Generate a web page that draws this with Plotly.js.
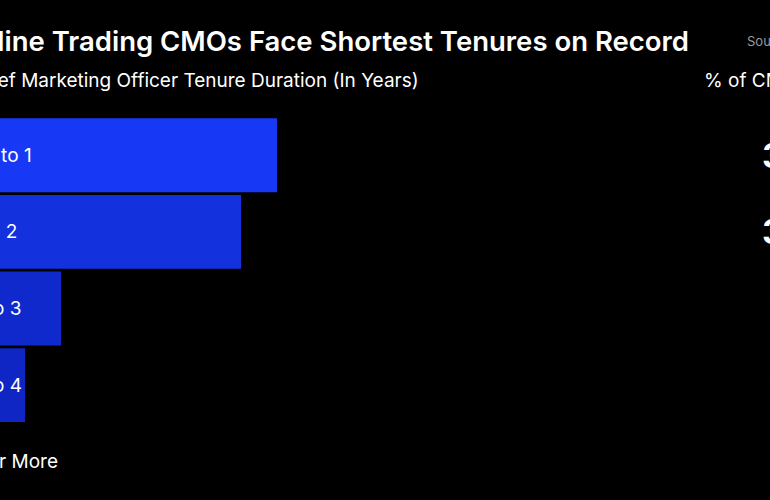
<!DOCTYPE html>
<html>
<head>
<meta charset="utf-8">
<script src="https://cdn.plot.ly/plotly-3.0.1.min.js"></script>
<style>
  html, body { margin: 0; padding: 0; background: #000; overflow: hidden; }
  #chart { width: 770px; height: 500px; }
</style>
</head>
<body>
<div id="chart"></div>
<script>
// Data
const categories = ["Up to 1", "1 to 2", "2 to 3", "3 to 4", "4 or More"];
const shareOfCMOs = [38, 34, 14, 10, 4];
const valueLabels = ["38%", "34%", "14%", "10%", "4%"];
const barColors = ["#1739F6", "#1331DD", "#1029CC", "#0F26C4", "#0E23B8"];

const titleText = "Online Trading CMOs Face Shortest Tenures on Record";
const subtitleText = "Chief Marketing Officer Tenure Duration (In Years)";
const rightHeader = "% of CMOs";
const sourceText = "Source: Industry survey";

const W = 770, H = 500;
const M = { l: 0, r: 0, t: 117, b: 0 };
const plotH = H - M.t - M.b;
const px2paperX = px => (px - M.l) / (W - M.l - M.r);
const px2paperY = py => (H - M.b - py) / plotH;

const trace = {
  type: "bar",
  orientation: "h",
  y: categories,
  x: shareOfCMOs,
  marker: { color: barColors, line: { width: 0 } },
  hoverinfo: "skip",
  showlegend: false
};

const annotations = [];
categories.forEach((c, i) => {
  annotations.push({
    xref: "paper", yref: "y", x: px2paperX(-32), y: c,
    xanchor: "left", yanchor: "middle", showarrow: false,
    text: c, font: { family: "Inter, sans-serif", size: 19, color: "#ffffff" }
  });
  annotations.push({
    xref: "paper", yref: "y", x: px2paperX(843), y: c,
    xanchor: "right", yanchor: "middle", showarrow: false,
    text: valueLabels[i], font: { family: "Inter, sans-serif", size: 34, color: "#ffffff", weight: 700 }
  });
});
annotations.push({
  xref: "paper", yref: "paper", x: px2paperX(421), y: px2paperY(80),
  xanchor: "right", yanchor: "middle", showarrow: false,
  text: subtitleText, font: { family: "Inter, sans-serif", size: 19, color: "#ffffff" }
});
annotations.push({
  xref: "paper", yref: "paper", x: px2paperX(702), y: px2paperY(80),
  xanchor: "left", yanchor: "middle", showarrow: false,
  text: rightHeader, font: { family: "Inter, sans-serif", size: 19, color: "#ffffff" }
});
annotations.push({
  xref: "paper", yref: "paper", x: px2paperX(745), y: px2paperY(41),
  xanchor: "left", yanchor: "middle", showarrow: false,
  text: sourceText, font: { family: "Inter, sans-serif", size: 13, color: "#9a9a9a" }
});

const layout = {
  width: W, height: H,
  margin: M,
  paper_bgcolor: "#000000",
  plot_bgcolor: "#000000",
  bargap: 0.035,
  title: {
    text: titleText,
    xref: "container", yref: "container",
    x: 689 / W, xanchor: "right",
    y: 1 - 41 / H, yanchor: "middle",
    font: { family: "Inter, sans-serif", size: 27.5, color: "#ffffff", weight: 600 }
  },
  xaxis: { range: [65 / 9, 65 / 9 + 770 / 9], visible: false, fixedrange: true },
  yaxis: { autorange: "reversed", visible: false, fixedrange: true },
  annotations: annotations,
  showlegend: false
};

Plotly.newPlot("chart", [trace], layout, { displayModeBar: false, staticPlot: true });
</script>
</body>
</html>
